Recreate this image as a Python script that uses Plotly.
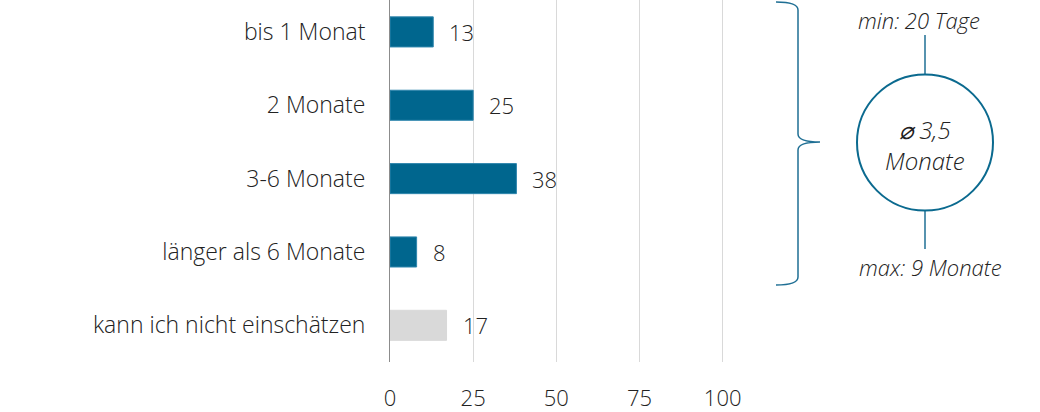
import plotly.graph_objects as go

# Survey answers: expected duration
categories = ["bis 1 Monat", "2 Monate", "3-6 Monate", "länger als 6 Monate", "kann ich nicht einschätzen"]
values = [13, 25, 38, 8, 17]
x_ticks = [0, 25, 50, 75, 100]
summary_min = "min: 20 Tage"
summary_avg = "⌀ 3,5<br>Monate"
summary_max = "max: 9 Monate"

BLUE = "#00668e"
GREY = "#d9d9d9"
TEXT = "#222222"
FONT = "Open Sans"

W, H = 1040, 412
ML, MR, MT, MB = 390, 314, 0, 50
PW, PH = W - ML - MR, H - MT - MB
X_MAX = 101


def px(x):
    return (x - ML) / PW


def py(y):
    return 1 - (y - MT) / PH


bar_colors = [BLUE] * 4 + [GREY]
line_colors = ["#2f86ad"] * 4 + [GREY]

fig = go.Figure()
fig.add_trace(go.Bar(
    x=values, y=categories, orientation="h",
    marker=dict(color=bar_colors, line=dict(color=line_colors, width=1)),
    width=0.41, hoverinfo="skip",
))

for cat, v in zip(categories, values):
    fig.add_annotation(
        x=v, y=cat, xref="x", yref="y", text=str(v), showarrow=False,
        xanchor="left", xshift=14, font=dict(family=FONT, size=22, color=TEXT, weight=300),
    )

# Curly brace grouping the four duration answers
pts = [(776, 2), (798, 2), (798, 10), (798, 134), (798, 142), (820, 142),
       (798, 142), (798, 150), (798, 277), (798, 285), (776, 285)]
p = [(px(a), py(b)) for a, b in pts]
path = (f"M {p[0][0]},{p[0][1]} Q {p[1][0]},{p[1][1]} {p[2][0]},{p[2][1]} "
        f"L {p[3][0]},{p[3][1]} Q {p[4][0]},{p[4][1]} {p[5][0]},{p[5][1]} "
        f"Q {p[6][0]},{p[6][1]} {p[7][0]},{p[7][1]} "
        f"L {p[8][0]},{p[8][1]} Q {p[9][0]},{p[9][1]} {p[10][0]},{p[10][1]}")
fig.add_shape(type="path", path=path, xref="paper", yref="paper",
              line=dict(color="#1f6f94", width=1.5))

# Average circle with min/max connectors
cx, cy, r = 925, 142.5, 68
fig.add_shape(type="line", xref="paper", yref="paper",
              x0=px(cx), x1=px(cx), y0=py(35), y1=py(cy - r),
              line=dict(color="#1f6f94", width=1.5))
fig.add_shape(type="line", xref="paper", yref="paper",
              x0=px(cx), x1=px(cx), y0=py(cy + r), y1=py(249),
              line=dict(color="#1f6f94", width=1.5))
fig.add_shape(type="circle", xref="paper", yref="paper",
              x0=px(cx - r), x1=px(cx + r), y0=py(cy + r), y1=py(cy - r),
              line=dict(color="#0b6a8f", width=2), fillcolor="white")

italic = dict(family=FONT, size=22, color=TEXT, style="italic", weight=300)
for x, y, txt, f in [(919, 20, summary_min, italic), (930, 267, summary_max, italic),
                     (cx, 145, summary_avg, dict(italic, size=24))]:
    fig.add_annotation(x=px(x), y=py(y), xref="paper", yref="paper", text=txt,
                       xanchor="center", yanchor="middle", showarrow=False, font=f)

fig.update_layout(
    width=W, height=H,
    margin=dict(l=ML, r=MR, t=MT, b=MB),
    paper_bgcolor="white", plot_bgcolor="white",
    showlegend=False,
    font=dict(family=FONT, size=22, color=TEXT, weight=300),
    xaxis=dict(range=[0, X_MAX], tickvals=x_ticks, showgrid=True, gridcolor="#d9d9d9",
               gridwidth=1, zeroline=False, showline=False, ticks="",
               ticklabelstandoff=21, tickfont=dict(size=22, color=TEXT, weight=300)),
    yaxis=dict(categoryorder="array", categoryarray=categories,
               range=[4.5, -0.435], showline=True, linecolor="#8c8c8c", linewidth=1,
               showgrid=False, ticks="", ticklabelstandoff=19,
               tickfont=dict(size=23, color=TEXT, weight=300)),
)

fig.write_html("out.html")
